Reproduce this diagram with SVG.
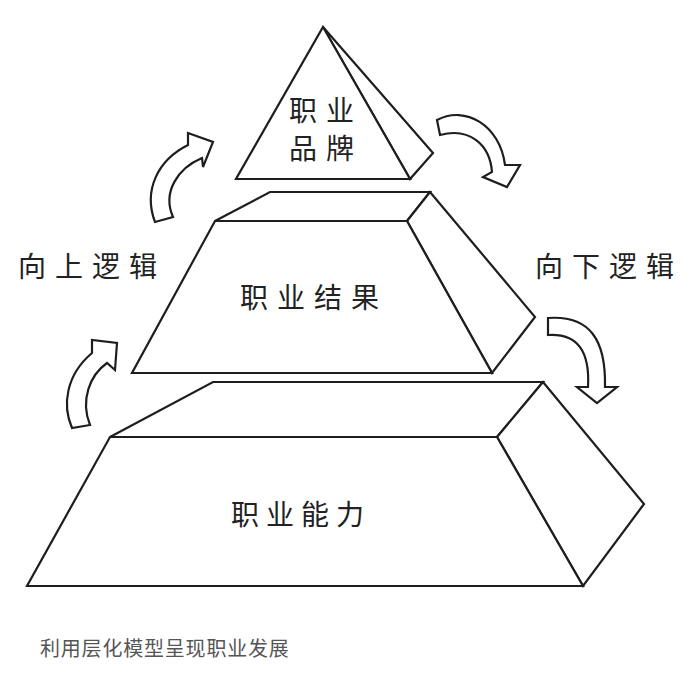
<svg xmlns="http://www.w3.org/2000/svg" width="685" height="676" viewBox="0 0 685 676">
  <style>
    .face { fill: #ffffff; stroke: #1e1e1e; stroke-width: 2.2; stroke-linejoin: miter; }
    .arrow { fill: #ffffff; stroke: #1e1e1e; stroke-width: 2.2; stroke-linejoin: miter; }
    .label { font-family: "Noto Sans CJK SC", "Noto Sans", sans-serif; font-size: 28px; fill: #222222; letter-spacing: 9px; }
    .caption { font-family: "Noto Sans CJK SC", "Noto Sans", sans-serif; font-size: 20px; fill: #555555; letter-spacing: 0.8px; }
  </style>
  <rect width="685" height="676" fill="#ffffff"/>

  <!-- bottom tier: career ability -->
  <g id="tier-ability">
    <polygon class="face" points="110,437 213,382 543,382 497,437"/>
    <polygon class="face" points="497,437 543,382 644,504 583,586"/>
    <polygon class="face" points="110,437 497,437 583,586 27,586"/>
    <text class="label" x="231" y="525" style="letter-spacing:7px">职业能力</text>
  </g>

  <!-- middle tier: career results -->
  <g id="tier-results">
    <polygon class="face" points="215,221 270,192 430,192 407,221"/>
    <polygon class="face" points="407,221 430,192 535,317 492,373"/>
    <polygon class="face" points="215,221 407,221 492,373 132,373"/>
    <text class="label" x="240" y="308">职业结果</text>
  </g>

  <!-- top tier: career brand -->
  <g id="tier-brand">
    <polygon class="face" points="323,27 433,153 410,179"/>
    <polygon class="face" points="323,27 410,179 236,179"/>
    <text class="label" x="289" y="121">职业</text>
    <text class="label" x="289" y="159">品牌</text>
  </g>

  <!-- side captions -->
  <g id="label-up">
    <text class="label" x="18" y="277">向上逻辑</text>
  </g>
  <g id="label-down">
    <text class="label" x="535" y="277">向下逻辑</text>
  </g>

  <!-- curved block arrows -->
  <g id="connectors">
    <!-- upward, lower left -->
    <path class="arrow" d="M72,428 C62,405 66,375 92,353 L92,340 L117,343 L115,370 L107,363 C90,375 80,400 90,425 Z"/>
    <!-- upward, upper left -->
    <path class="arrow" d="M155,222 C143,190 158,160 188,145 L188,133 L213,142 L203,167 L202,158 C178,168 162,192 173,217 Z"/>
    <!-- downward, upper right -->
    <path class="arrow" d="M437,120 C465,105 500,125 505,165 L520,165 L507,187 L483,177 L492,172 C490,145 470,127 440,135 Z"/>
    <!-- downward, lower right -->
    <path class="arrow" d="M548,318 C590,315 606,340 605,387 L617,387 L597,403 L577,387 L588,387 C590,352 578,333 548,335 Z"/>
  </g>

  <text class="caption" x="40" y="656">利用层化模型呈现职业发展</text>
</svg>
